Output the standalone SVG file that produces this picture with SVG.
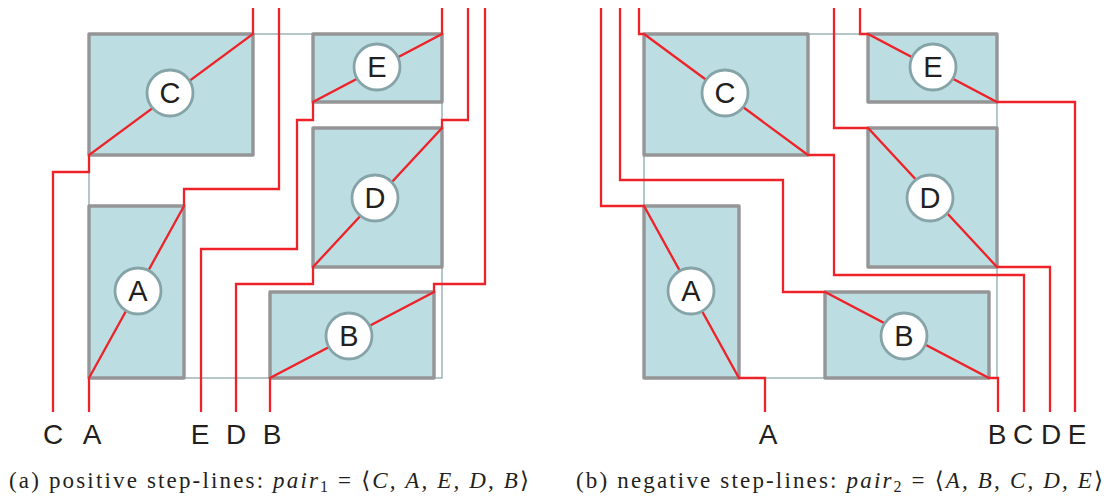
<svg xmlns="http://www.w3.org/2000/svg" width="1109" height="499" viewBox="0 0 1109 499">
<style>
.bound{fill:none;stroke:#8fa9ad;stroke-width:1.3}
.box{fill:#bcdee2;stroke:#959597;stroke-width:3.4;stroke-linejoin:round}
.c{fill:#fff;stroke:#86a4a8;stroke-width:2.8}
.l{fill:none;stroke:#ee2329;stroke-width:2.3;stroke-linejoin:miter}
text{font-family:"Liberation Sans",Arial,sans-serif;fill:#231f20}
.n{font-size:29px;text-anchor:middle}
.b{font-size:28px;text-anchor:middle}
.cap{font-family:"Liberation Serif","DejaVu Serif",serif;font-size:23px}
.cap .i{font-style:italic}
.cap .s{font-size:16px}
</style>
<rect id="bound-a" class="bound" x="89" y="34" width="353" height="344"/>
<rect id="bound-b" class="bound" x="644" y="34" width="353" height="344"/>
<g id="rects-a">
<rect class="box" x="89" y="34" width="164" height="121"/>
<rect class="box" x="313" y="34" width="129" height="68"/>
<rect class="box" x="313" y="128" width="129" height="139"/>
<rect class="box" x="89" y="206" width="95" height="172"/>
<rect class="box" x="270" y="292" width="164" height="86"/>
</g>
<g id="rects-b">
<rect class="box" x="644" y="34" width="164" height="121"/>
<rect class="box" x="868" y="34" width="129" height="68"/>
<rect class="box" x="868" y="128" width="129" height="139"/>
<rect class="box" x="644" y="206" width="95" height="172"/>
<rect class="box" x="825" y="292" width="164" height="86"/>
</g>
<g id="connectors">
<path class="l" d="M53 412V172H89V155L253 34V8"/>
<path class="l" d="M89 412V378L184 206V189H279V8"/>
<path class="l" d="M201 412V249H297V120H313V102L442 34V8"/>
<path class="l" d="M236 412V284H313V267L442 128V120H468V8"/>
<path class="l" d="M270 412V378L434 292V284H485V8"/>
<path class="l" d="M601 8V206H644L739 378H765V412"/>
<path class="l" d="M620 8V180H783V292H825L989 378H998V412"/>
<path class="l" d="M639 8V34H644L808 155H834V275H1024V412"/>
<path class="l" d="M834 8V128H868L997 267H1050V412"/>
<path class="l" d="M860 8V34H868L997 102H1075V412"/>
</g>
<g id="node-a-C"><circle class="c" cx="170" cy="93" r="23"/><text class="n" x="170" y="103">C</text></g>
<g id="node-a-E"><circle class="c" cx="377" cy="67" r="23"/><text class="n" x="377" y="77">E</text></g>
<g id="node-a-D"><circle class="c" cx="375" cy="198" r="23"/><text class="n" x="375" y="208">D</text></g>
<g id="node-a-A"><circle class="c" cx="138" cy="291" r="23"/><text class="n" x="138" y="301">A</text></g>
<g id="node-a-B"><circle class="c" cx="349" cy="336" r="23"/><text class="n" x="349" y="346">B</text></g>
<g id="node-b-C"><circle class="c" cx="725" cy="93" r="23"/><text class="n" x="725" y="103">C</text></g>
<g id="node-b-E"><circle class="c" cx="933" cy="67" r="23"/><text class="n" x="933" y="77">E</text></g>
<g id="node-b-D"><circle class="c" cx="930" cy="198" r="23"/><text class="n" x="930" y="208">D</text></g>
<g id="node-b-A"><circle class="c" cx="691" cy="291" r="23"/><text class="n" x="691" y="301">A</text></g>
<g id="node-b-B"><circle class="c" cx="904" cy="336" r="23"/><text class="n" x="904" y="346">B</text></g>
<g id="labels">
<text class="b" x="53" y="444">C</text><text class="b" x="92" y="444">A</text><text class="b" x="200" y="444">E</text><text class="b" x="236" y="444">D</text><text class="b" x="272" y="444">B</text>
<text class="b" x="768" y="444">A</text><text class="b" x="997" y="444">B</text><text class="b" x="1023" y="444">C</text><text class="b" x="1051" y="444">D</text><text class="b" x="1077" y="444">E</text>
</g>
<text class="cap" x="9" y="488" textLength="520" lengthAdjust="spacing">(a) positive step-lines: <tspan class="i">pair</tspan><tspan class="s" dy="4">1</tspan><tspan dy="-4"> = ⟨</tspan><tspan class="i">C, A, E, D, B</tspan>⟩</text>
<text class="cap" x="576" y="488" textLength="527" lengthAdjust="spacing">(b) negative step-lines: <tspan class="i">pair</tspan><tspan class="s" dy="4">2</tspan><tspan dy="-4"> = ⟨</tspan><tspan class="i">A, B, C, D, E</tspan>⟩</text>
</svg>
